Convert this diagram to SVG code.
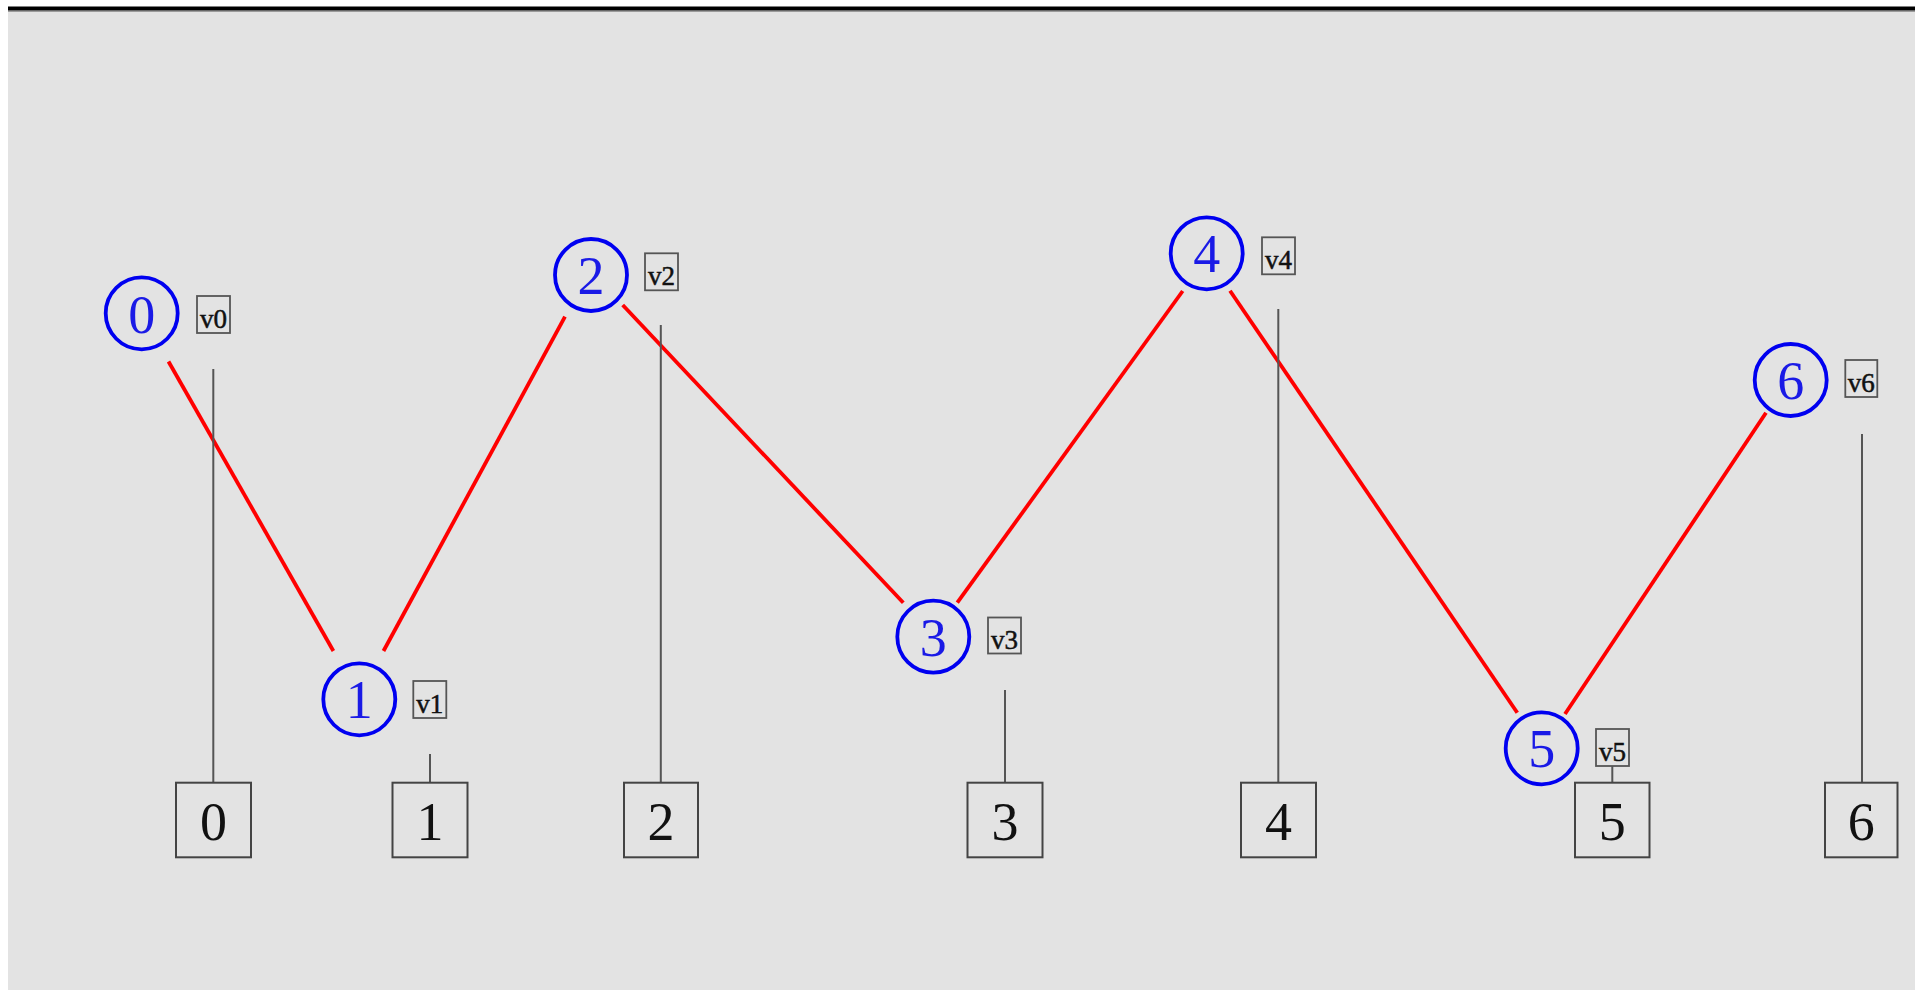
<svg xmlns="http://www.w3.org/2000/svg" width="1915" height="990" viewBox="0 0 1915 990">
  <style>
    .vertex circle { fill: none; stroke: #0000f0; stroke-width: 3.8; }
    .vertex text { font-family: "Liberation Serif", "Times New Roman", serif; font-size: 54px; fill: #1a1ae6; text-anchor: middle; }
    .tag rect { fill: none; stroke: #555; stroke-width: 1.8; }
    .tag text { font-family: "Liberation Serif", "Times New Roman", serif; font-size: 27px; fill: #111; stroke: #111; stroke-width: 0.5; text-anchor: middle; }
    .slot rect { fill: none; stroke: #444; stroke-width: 2; }
    .slot text { font-family: "Liberation Serif", "Times New Roman", serif; font-size: 54px; fill: #111; text-anchor: middle; }
    .edge { stroke: #ff0000; stroke-width: 3.8; fill: none; }
    .drop { stroke: #555; stroke-width: 2; }
  </style>

  <!-- canvas -->
  <rect x="0" y="0" width="1915" height="990" fill="#ffffff"/>
  <rect x="8" y="10" width="1907" height="980" fill="#e3e3e3"/>
  <rect x="8" y="6.5" width="1907" height="3.8" fill="#000"/>
  <line x1="8" y1="10.8" x2="1915" y2="10.8" stroke="#555" stroke-width="1.2"/>

  <!-- connectors: path edges and drop lines to the index slots -->
  <g id="connectors">
    <line class="edge" x1="168.5" y1="361.5" x2="333.4" y2="651"/>
    <line class="edge" x1="383.5" y1="651" x2="565" y2="316.7"/>
    <line class="edge" x1="622.7" y1="305" x2="903.3" y2="602.7"/>
    <line class="edge" x1="957.3" y1="602.7" x2="1182.7" y2="291"/>
    <line class="edge" x1="1230" y1="290.7" x2="1517.3" y2="712.7"/>
    <line class="edge" x1="1565" y1="714" x2="1766" y2="412.7"/>

    <line class="drop" x1="213.3" y1="369" x2="213.3" y2="783"/>
    <line class="drop" x1="430" y1="754" x2="430" y2="783"/>
    <line class="drop" x1="660.8" y1="325" x2="660.8" y2="783"/>
    <line class="drop" x1="1005" y1="690" x2="1005" y2="783"/>
    <line class="drop" x1="1278.3" y1="309" x2="1278.3" y2="783"/>
    <line class="drop" x1="1612.3" y1="766" x2="1612.3" y2="783"/>
    <line class="drop" x1="1862" y1="434" x2="1862" y2="783"/>
  </g>

  <!-- vertices with their tags -->
  <g id="v0">
    <g class="vertex"><circle cx="141.7" cy="313.3" r="36"/><text x="141.7" y="333">0</text></g>
    <g class="tag"><rect x="197" y="296" width="33" height="37"/><text x="213.5" y="328">v0</text></g>
  </g>
  <g id="v1">
    <g class="vertex"><circle cx="359.3" cy="699.3" r="36"/><text x="359.3" y="718.3">1</text></g>
    <g class="tag"><rect x="413.3" y="681" width="33" height="37"/><text x="429.8" y="713">v1</text></g>
  </g>
  <g id="v2">
    <g class="vertex"><circle cx="591" cy="275" r="36"/><text x="591" y="294">2</text></g>
    <g class="tag"><rect x="645" y="253.3" width="33" height="37"/><text x="661.5" y="285.3">v2</text></g>
  </g>
  <g id="v3">
    <g class="vertex"><circle cx="933.3" cy="636.7" r="36"/><text x="933.3" y="655.7">3</text></g>
    <g class="tag"><rect x="988" y="617.5" width="33" height="36"/><text x="1004.5" y="648.5">v3</text></g>
  </g>
  <g id="v4">
    <g class="vertex"><circle cx="1206.7" cy="253.3" r="36"/><text x="1206.7" y="272.3">4</text></g>
    <g class="tag"><rect x="1262" y="237.3" width="33" height="37"/><text x="1278.5" y="269.3">v4</text></g>
  </g>
  <g id="v5">
    <g class="vertex"><circle cx="1541.7" cy="748.3" r="36"/><text x="1541.7" y="767.3">5</text></g>
    <g class="tag"><rect x="1596" y="729" width="33" height="37"/><text x="1612.5" y="761">v5</text></g>
  </g>
  <g id="v6">
    <g class="vertex"><circle cx="1790.7" cy="380" r="36"/><text x="1790.7" y="399">6</text></g>
    <g class="tag"><rect x="1845.3" y="360" width="32" height="37"/><text x="1861.3" y="392">v6</text></g>
  </g>

  <!-- index slots along the bottom -->
  <g id="slot0" class="slot"><rect x="176" y="782.7" width="75" height="74.6"/><text x="213.5" y="840">0</text></g>
  <g id="slot1" class="slot"><rect x="392.5" y="782.7" width="75" height="74.6"/><text x="430" y="840">1</text></g>
  <g id="slot2" class="slot"><rect x="624" y="782.7" width="74" height="74.6"/><text x="661" y="840">2</text></g>
  <g id="slot3" class="slot"><rect x="967.5" y="782.7" width="75" height="74.6"/><text x="1005" y="840">3</text></g>
  <g id="slot4" class="slot"><rect x="1241" y="782.7" width="75" height="74.6"/><text x="1278.5" y="840">4</text></g>
  <g id="slot5" class="slot"><rect x="1575" y="782.7" width="74.5" height="74.6"/><text x="1612.2" y="840">5</text></g>
  <g id="slot6" class="slot"><rect x="1825" y="782.7" width="72.5" height="74.6"/><text x="1861.2" y="840">6</text></g>
</svg>
